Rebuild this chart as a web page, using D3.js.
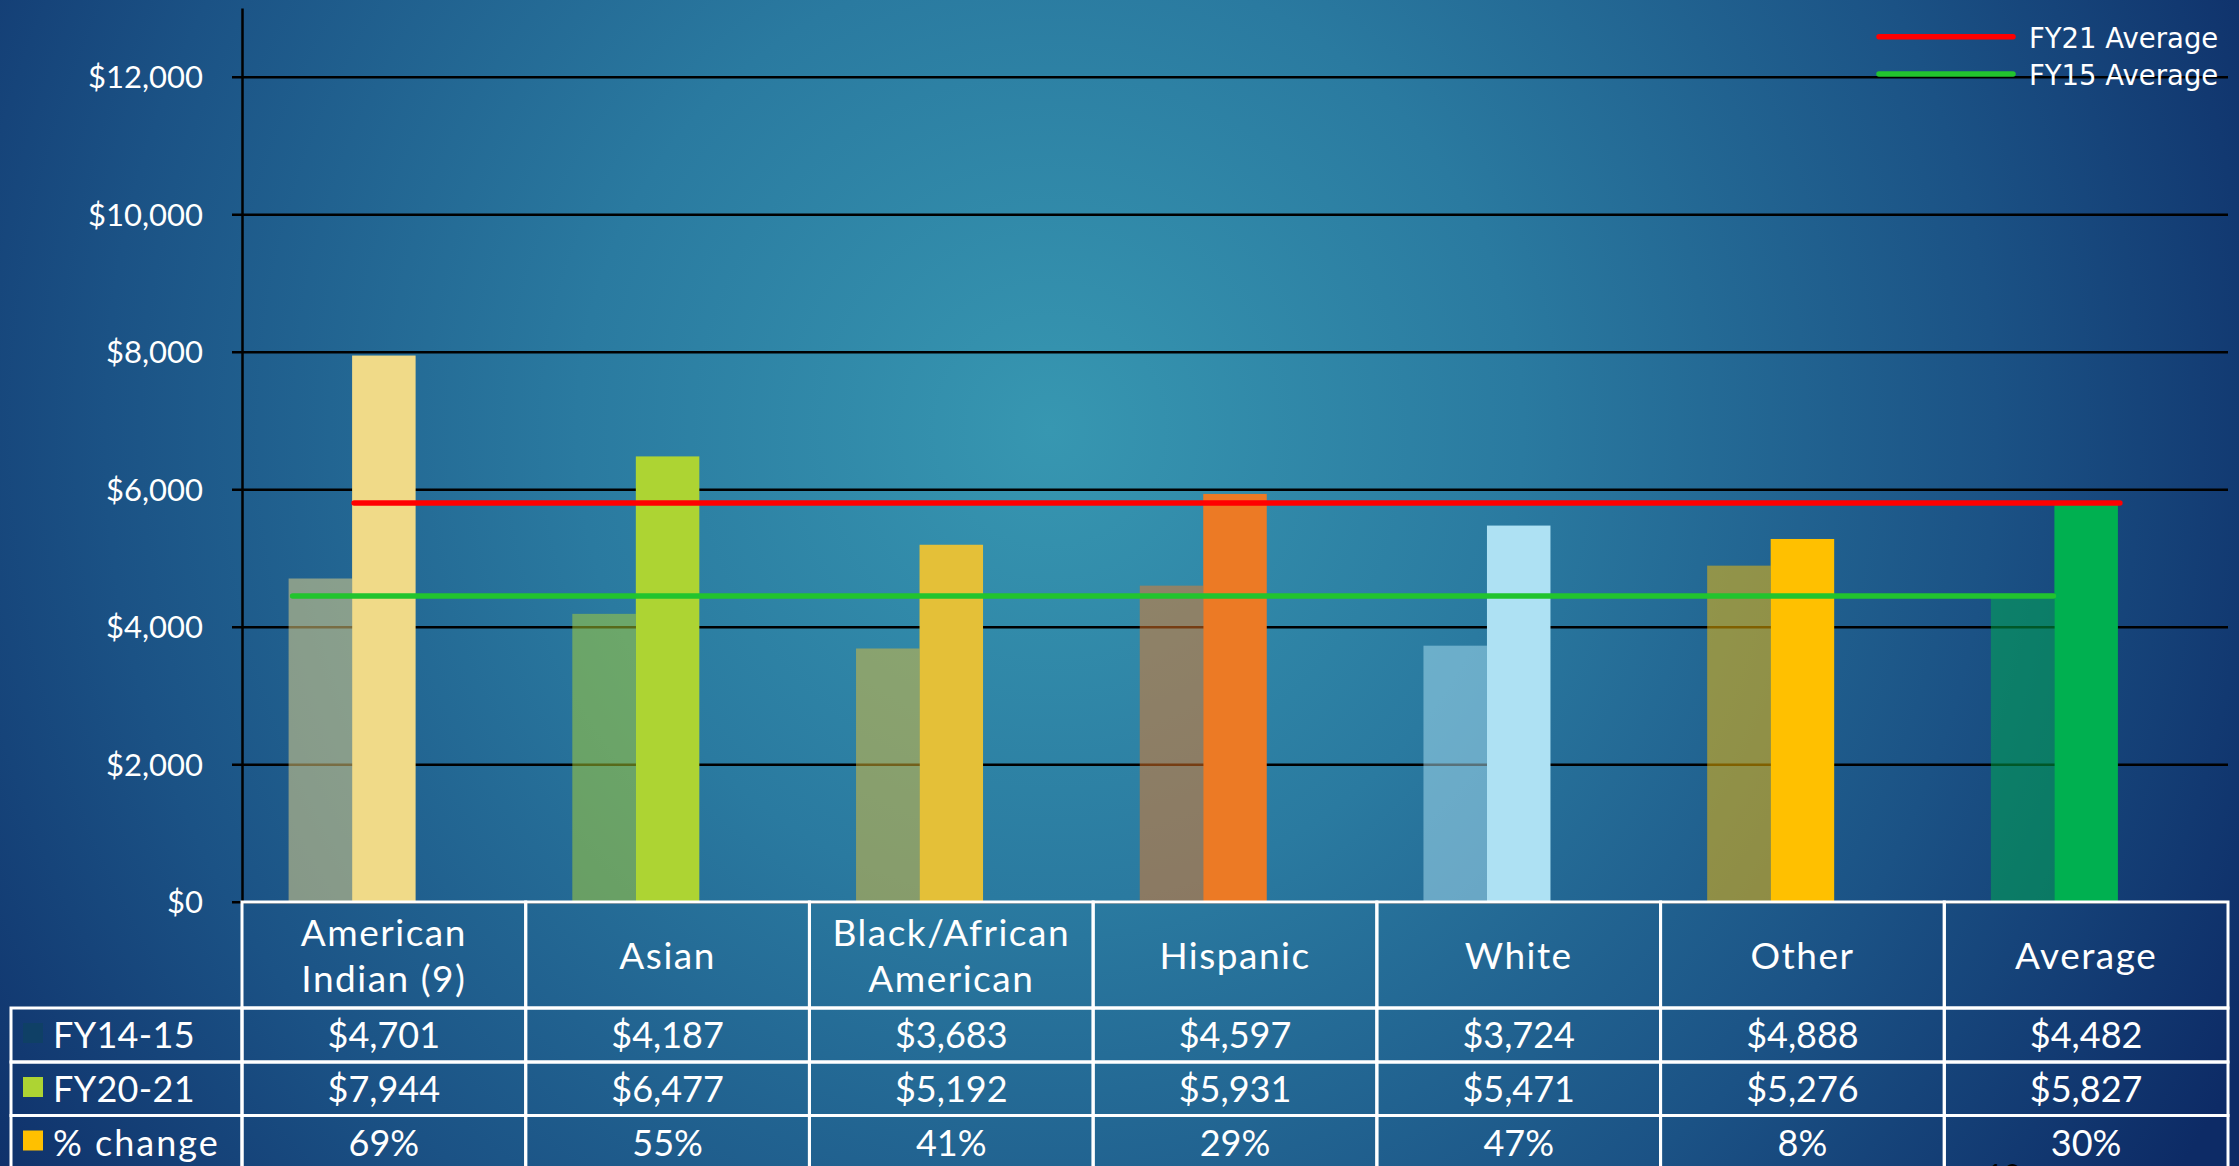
<!DOCTYPE html>
<html>
<head>
<meta charset="utf-8">
<script src="https://cdn.jsdelivr.net/npm/d3@7"></script>
<style>
  html, body { margin: 0; padding: 0; overflow: hidden; background: #1a4a80; }
  svg { display: block; }
</style>
</head>
<body>
<svg id="chart" width="2239" height="1166"></svg>
<script>
// ---------------- DATA ----------------
const categories = ["American Indian (9)", "Asian", "Black/African American", "Hispanic", "White", "Other", "Average"];
const headerLines = [["American", "Indian (9)"], ["Asian"], ["Black/African", "American"], ["Hispanic"], ["White"], ["Other"], ["Average"]];
const fy15 = [4701, 4187, 3683, 4597, 3724, 4888, 4482];
const fy21 = [7944, 6477, 5192, 5931, 5471, 5276, 5827];
const pctChange = [0.69, 0.55, 0.41, 0.29, 0.47, 0.08, 0.30];
const seriesNames = ["FY14-15", "FY20-21", "% change"];
const seriesLegendColors = ["#0f4066", "#add433", "#ffc000"];
const barColors = ["#f0da88", "#add433", "#e4c038", "#ec7a25", "#aee1f3", "#ffc000", "#00b050"];
const fy21Average = 5827;
const fy15Average = 4482;
const yTicks = [0, 2000, 4000, 6000, 8000, 10000, 12000];
const yMax = 13000;

// ---------------- SETUP ----------------
const W = 2239, H = 1166;
const svg = d3.select("#chart");
const defs = svg.append("defs");
const grad = defs.append("radialGradient").attr("id", "bg")
  .attr("gradientUnits", "userSpaceOnUse")
  .attr("cx", 1050).attr("cy", 430).attr("r", 1350)
  .attr("fx", 1050).attr("fy", 430);
grad.append("stop").attr("offset", 0).attr("stop-color", "#3797b1");
grad.append("stop").attr("offset", 0.35).attr("stop-color", "#2a7aa0");
grad.append("stop").attr("offset", 0.7).attr("stop-color", "#1b5285");
grad.append("stop").attr("offset", 1).attr("stop-color", "#0d2b66");
svg.append("rect").attr("width", W).attr("height", H).attr("fill", "url(#bg)");

const plotLeft = 242, plotRight = 2228, plotBottom = 901.7;
const axisFont = "Lato, 'Open Sans', sans-serif";

const x = d3.scaleBand().domain(categories).range([plotLeft, plotRight])
  .paddingInner(0.3285).paddingOuter(0.3285 / 2);
const xs = d3.scaleBand().domain(seriesNames).range([0, x.bandwidth()]);
const y = d3.scaleLinear().domain([0, yMax]).range([plotBottom, 7.95]);

// gridlines + y axis
const yAxis = d3.axisLeft(y).tickValues(yTicks)
  .tickFormat(d => "$" + d3.format(",")(d))
  .tickSize(-(plotRight - plotLeft)).tickSizeOuter(0).tickPadding(39);
const gAxis = svg.append("g").attr("transform", `translate(${plotLeft},0)`).call(yAxis);
gAxis.select(".domain").attr("stroke", "#000").attr("stroke-width", 2.5);
gAxis.selectAll(".tick line").attr("stroke", "#000").attr("stroke-width", 2.5).attr("x1", -10);
gAxis.selectAll(".tick text").attr("fill", "#fff").attr("font-family", axisFont)
  .attr("font-size", 31).attr("dy", "0.36em");

// bars
const gBars = svg.append("g");
categories.forEach((c, i) => {
  gBars.append("rect").attr("x", x(c) + xs("FY14-15")).attr("width", xs.bandwidth())
    .attr("y", y(fy15[i])).attr("height", y(0) - y(fy15[i]))
    .attr("fill", barColors[i]).attr("fill-opacity", 0.5);
  gBars.append("rect").attr("x", x(c) + xs("FY20-21")).attr("width", xs.bandwidth())
    .attr("y", y(fy21[i])).attr("height", y(0) - y(fy21[i]))
    .attr("fill", barColors[i]);
  gBars.append("rect").attr("x", x(c) + xs("% change")).attr("width", xs.bandwidth())
    .attr("y", y(pctChange[i])).attr("height", y(0) - y(pctChange[i]))
    .attr("fill", seriesLegendColors[2]);
});

// average lines
const first = categories[0], last = categories[categories.length - 1];
svg.append("line")
  .attr("x1", x(first) + xs("FY20-21") + 2).attr("x2", x(last) + xs("FY20-21") + xs.bandwidth() + 2)
  .attr("y1", y(fy21Average) + 2).attr("y2", y(fy21Average) + 2)
  .attr("stroke", "#ff0000").attr("stroke-width", 5.5).attr("stroke-linecap", "round");
svg.append("line")
  .attr("x1", x(first) + xs("FY14-15") + 4).attr("x2", x(last) + xs("FY14-15") + xs.bandwidth() - 1)
  .attr("y1", y(fy15Average) + 2.5).attr("y2", y(fy15Average) + 2.5)
  .attr("stroke", "#22c42e").attr("stroke-width", 5.5).attr("stroke-linecap", "round");

// legend
const legend = [{ label: "FY21 Average", color: "#ff0000", yy: 36.7 }, { label: "FY15 Average", color: "#22c42e", yy: 74 }];
legend.forEach(l => {
  svg.append("line").attr("x1", 1879).attr("x2", 2013).attr("y1", l.yy).attr("y2", l.yy)
    .attr("stroke", l.color).attr("stroke-width", 5.5).attr("stroke-linecap", "round");
  svg.append("text").attr("x", 2029).attr("y", l.yy + 11).attr("fill", "#fff")
    .attr("font-family", "'DejaVu Sans', sans-serif").attr("font-size", 27.5).text(l.label);
});

// ---------------- TABLE ----------------
const tableFont = axisFont;
const colW = x.step();
const headerTop = 902, headerBottom = 1008;
const rowEdges = [1008, 1062, 1115.5, 1169];
const tbl = svg.append("g");
const stroke = "#fff", sw = 3;
// header cells
categories.forEach((c, i) => {
  const x0 = plotLeft + i * colW;
  tbl.append("rect").attr("x", x0).attr("y", headerTop).attr("width", colW).attr("height", headerBottom - headerTop)
    .attr("fill", "none").attr("stroke", stroke).attr("stroke-width", sw);
  const lines = headerLines[i];
  const cx = x0 + colW / 2;
  const baselines = lines.length === 2 ? [946, 992] : [969];
  lines.forEach((t, k) => {
    tbl.append("text").attr("x", cx).attr("y", baselines[k]).attr("text-anchor", "middle")
      .attr("fill", "#fff").attr("font-family", tableFont).attr("font-size", 37)
      .attr("letter-spacing", 1.5).text(t);
  });
});
// data rows
const rowsData = [
  fy15.map(v => "$" + d3.format(",")(v)),
  fy21.map(v => "$" + d3.format(",")(v)),
  pctChange.map(v => Math.round(v * 100) + "%")
];
rowsData.forEach((vals, r) => {
  const y0 = rowEdges[r], y1 = rowEdges[r + 1];
  tbl.append("rect").attr("x", 11).attr("y", y0).attr("width", plotLeft - 11).attr("height", y1 - y0)
    .attr("fill", "none").attr("stroke", stroke).attr("stroke-width", sw);
  tbl.append("rect").attr("x", 23).attr("y", y0 + 15).attr("width", 20).attr("height", 20)
    .attr("fill", seriesLegendColors[r]);
  tbl.append("text").attr("x", 53).attr("y", y0 + 40).attr("fill", "#fff")
    .attr("font-family", tableFont).attr("font-size", 36)
    .attr("letter-spacing", r === 2 ? 2 : 0.3).text(seriesNames[r]);
  vals.forEach((v, i) => {
    const x0 = plotLeft + i * colW;
    tbl.append("rect").attr("x", x0).attr("y", y0).attr("width", colW).attr("height", y1 - y0)
      .attr("fill", "none").attr("stroke", stroke).attr("stroke-width", sw);
    tbl.append("text").attr("x", x0 + colW / 2).attr("y", y0 + 40).attr("text-anchor", "middle")
      .attr("fill", "#fff").attr("font-family", tableFont).attr("font-size", 36).text(v);
  });
});

// slide number (mostly cut off at bottom edge, as in the original slide)
svg.append("text").attr("x", 1986).attr("y", 1186).attr("fill", "#000")
  .attr("font-family", tableFont).attr("font-size", 30).text("13");
</script>
</body>
</html>
